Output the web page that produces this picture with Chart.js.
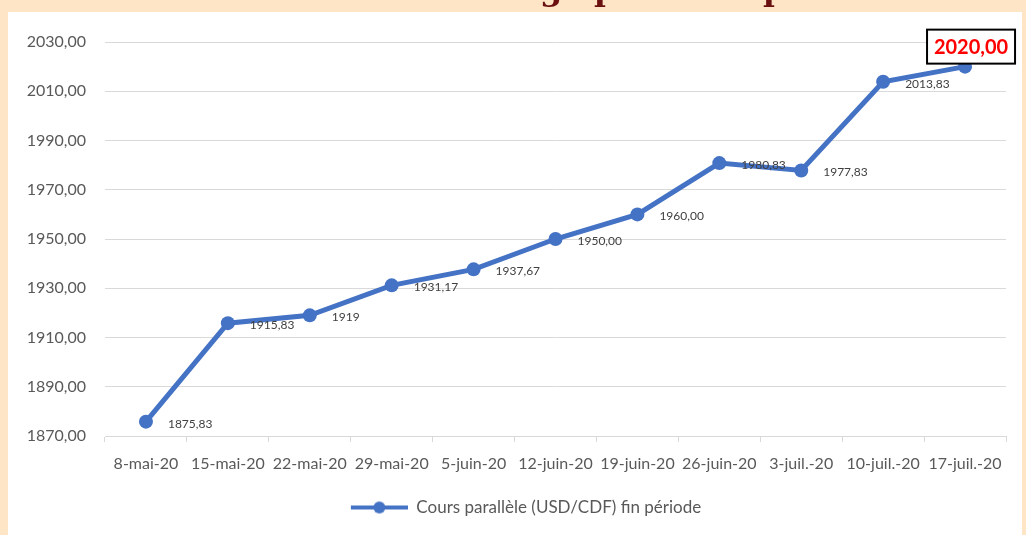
<!DOCTYPE html>
<html lang="fr">
<head>
<meta charset="utf-8">
<title>Cours parallèle (USD/CDF)</title>
<script src="https://cdn.jsdelivr.net/npm/chart.js@4.4.1/dist/chart.umd.min.js"></script>
<style>
    html, body { margin: 0; padding: 0; background: #fde5c6; }
    #chart { display: block; }
</style>
</head>
<body>
<canvas id="chart" width="1026" height="535"></canvas>
<script>
const categories = ["8-mai-20", "15-mai-20", "22-mai-20", "29-mai-20", "5-juin-20", "12-juin-20",
    "19-juin-20", "26-juin-20", "3-juil.-20", "10-juil.-20", "17-juil.-20"];
const coursParallele = [1875.83, 1915.83, 1919, 1931.17, 1937.67, 1950.00, 1960.00, 1980.83, 1977.83, 2013.83, 2020.00];
const pointLabels = ["1875,83", "1915,83", "1919", "1931,17", "1937,67", "1950,00", "1960,00", "1980,83", "1977,83", "2013,83", "2020,00"];
const yTicks = [1870, 1890, 1910, 1930, 1950, 1970, 1990, 2010, 2030];
const seriesName = "Cours parallèle (USD/CDF) fin période";
const titleText = "Évolution du change parallèle par semaine";

const BLUE = "#4472c4";
const FONT = "Lato, 'Noto Sans', sans-serif";

// line + dot used as legend symbol (blank strip on the left nudges the legend right)
const SYMBOL_PAD = 46;
const legendSymbol = document.createElement("canvas");
legendSymbol.width = 57 + SYMBOL_PAD;
legendSymbol.height = 14;
(function () {
    const c = legendSymbol.getContext("2d");
    c.strokeStyle = BLUE;
    c.lineWidth = 4;
    c.beginPath();
    c.moveTo(SYMBOL_PAD, 7);
    c.lineTo(SYMBOL_PAD + 57, 7);
    c.stroke();
    c.fillStyle = BLUE;
    c.beginPath();
    c.arc(SYMBOL_PAD + 28.5, 7, 6, 0, Math.PI * 2);
    c.fill();
})();

const backgroundPlugin = {
    id: "background",
    beforeDraw(chart) {
        const ctx = chart.ctx;
        ctx.save();
        ctx.fillStyle = "#fde5c6";
        ctx.fillRect(0, 0, chart.width, chart.height);
        ctx.fillStyle = "#ffffff";
        ctx.fillRect(8, 12, chart.width - 12, chart.height - 12);
        // title, cut off at the top: only the descenders show
        ctx.fillStyle = "#6b1010";
        ctx.font = "bold 32px 'DejaVu Serif', serif";
        ctx.textAlign = "left";
        ctx.textBaseline = "alphabetic";
        const startX = 540 - ctx.measureText("Évolution du chan").width;
        ctx.fillText(titleText, startX, 0);
        ctx.restore();
    },
};

const pointLabelPlugin = {
    id: "pointLabels",
    afterDatasetsDraw(chart) {
        const ctx = chart.ctx;
        const points = chart.getDatasetMeta(0).data;
        ctx.save();
        points.forEach(function (pt, i) {
            if (i === points.length - 1) {
                // highlighted last value
                const cx = pt.x + 6;
                const cy = pt.y - 20;
                ctx.fillStyle = "#ffffff";
                ctx.fillRect(cx - 44, cy - 17, 88, 34);
                ctx.strokeStyle = "#000000";
                ctx.lineWidth = 2;
                ctx.strokeRect(cx - 44, cy - 17, 88, 34);
                ctx.fillStyle = "#ff0000";
                ctx.font = "bold 20px " + FONT;
                ctx.textAlign = "center";
                ctx.textBaseline = "middle";
                ctx.fillText(pointLabels[i], cx, cy + 1);
            } else {
                ctx.fillStyle = "#404040";
                ctx.font = "12px " + FONT;
                ctx.textAlign = "left";
                ctx.textBaseline = "middle";
                ctx.fillText(pointLabels[i], pt.x + 22, pt.y + 2);
            }
        });
        ctx.restore();
    },
};

const ctx = document.getElementById("chart").getContext("2d");

new Chart(ctx, {
    type: "line",
    data: {
        labels: categories,
        datasets: [
            {
                label: seriesName,
                data: coursParallele,
                borderColor: BLUE,
                backgroundColor: BLUE,
                borderWidth: 5,
                pointRadius: 7,
                pointBackgroundColor: BLUE,
                pointBorderColor: BLUE,
                pointBorderWidth: 0,
                tension: 0,
                fill: false,
            },
        ],
    },
    options: {
        responsive: false,
        animation: false,
        layout: {
            padding: { top: 42, right: 20, bottom: 9, left: 0 },
        },
        plugins: {
            legend: {
                display: true,
                position: "bottom",
                labels: {
                    usePointStyle: true,
                    pointStyle: legendSymbol,
                    pointStyleWidth: 57 + SYMBOL_PAD,
                    color: "#595959",
                    font: { family: FONT, size: 17 },
                    padding: 10,
                },
            },
            tooltip: { enabled: false },
        },
        scales: {
            x: {
                offset: true,
                grid: {
                    offset: true,
                    drawOnChartArea: false,
                    drawTicks: true,
                    tickLength: 6,
                    color: "#d9d9d9",
                },
                border: { display: true, color: "#d9d9d9", width: 1 },
                ticks: {
                    color: "#595959",
                    font: { family: FONT, size: 16 },
                    padding: 12,
                    maxRotation: 0,
                    minRotation: 0,
                    autoSkip: false,
                },
                afterFit: function (scale) {
                    scale.height = 53;
                },
            },
            y: {
                min: yTicks[0],
                max: yTicks[yTicks.length - 1],
                afterBuildTicks: function (scale) {
                    scale.ticks = yTicks.map(function (v) {
                        return { value: v };
                    });
                },
                grid: {
                    color: "#d9d9d9",
                    lineWidth: 1,
                    drawTicks: false,
                },
                border: { display: false },
                ticks: {
                    color: "#595959",
                    font: { family: FONT, size: 16 },
                    padding: 19,
                    callback: function (value) {
                        return value.toFixed(2).replace(".", ",");
                    },
                },
                afterFit: function (scale) {
                    scale.width = 105;
                },
            },
        },
    },
    plugins: [backgroundPlugin, pointLabelPlugin],
});
</script>
</body>
</html>
